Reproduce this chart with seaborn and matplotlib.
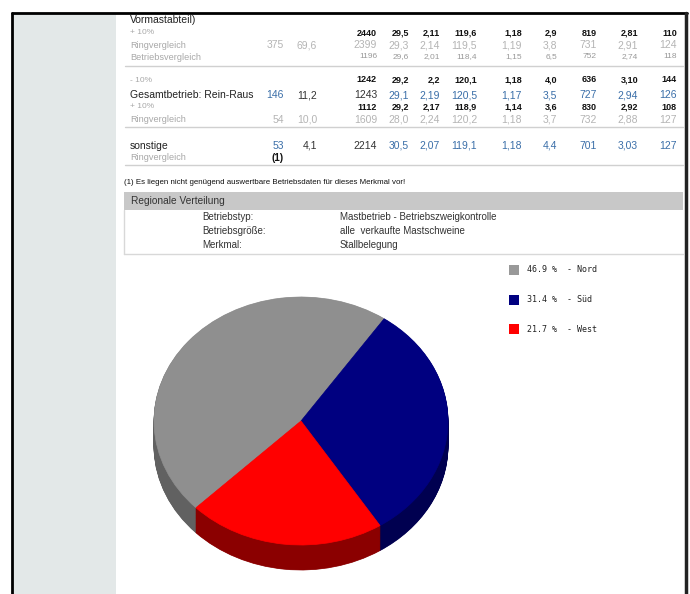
import numpy as np
import matplotlib.pyplot as plt
from matplotlib.patches import Rectangle
import seaborn as sns

sns.set_theme(style="white")
plt.rcParams['font.family'] = ['Liberation Sans', 'DejaVu Sans']

# ---- Daten: Tabelle ----
vorm_plus = ['2440', '29,5', '2,11', '119,6', '1,18', '2,9', '819', '2,81', '110']
vorm_ring = ['375', '69,6', '2399', '29,3', '2,14', '119,5', '1,19', '3,8', '731', '2,91', '124']
vorm_betrieb = ['1196', '29,6', '2,01', '118,4', '1,15', '6,5', '752', '2,74', '118']
rr_minus = ['1242', '29,2', '2,2', '120,1', '1,18', '4,0', '636', '3,10', '144']
rr_main = ['146', '11,2', '1243', '29,1', '2,19', '120,5', '1,17', '3,5', '727', '2,94', '126']
rr_plus = ['1112', '29,2', '2,17', '118,9', '1,14', '3,6', '830', '2,92', '108']
rr_ring = ['54', '10,0', '1609', '28,0', '2,24', '120,2', '1,18', '3,7', '732', '2,88', '127']
sonst_main = ['53', '4,1', '2214', '30,5', '2,07', '119,1', '1,18', '4,4', '701', '3,03', '127']

info_keys = ['Betriebstyp:', 'Betriebsgröße:', 'Merkmal:']
info_vals = ['Mastbetrieb - Betriebszweigkontrolle', 'alle  verkaufte Mastschweine', 'Stallbelegung']

# ---- Daten: Kreisdiagramm ----
regions = ['Nord', 'Süd', 'West']
shares = [46.9, 31.4, 21.7]
top_colors = ['#8f8f8f', '#000080', '#ff0000']
side_colors = ['#616161', '#000050', '#8b0000']
legend_colors = ['#999999', '#000080', '#ff0000']

# Spalten (rechte Kante in Pixel)
col_x = [284, 317, 377, 409, 440, 477, 522, 557, 597, 638, 677]

W, H = 690, 594
fig = plt.figure(figsize=(W / 100, H / 100), dpi=100)
bg = fig.add_axes([0, 0, 1, 1])
bg.set_xlim(0, W)
bg.set_ylim(H, 0)
bg.axis('off')

# Rahmen + Seitenleiste
bg.add_patch(Rectangle((13, 14), 103, H - 14, color='#e3e8e8', lw=0))
bg.plot([12, 12], [13, H], color='black', lw=2)
bg.plot([12, 687], [13, 13], color='black', lw=2)
bg.plot([686, 686], [13, H], color='#222222', lw=2.5)

BLUE = '#3a6ea8'
DARK = '#333333'
LIGHT = '#b4b4b4'
LBL = '#a8a8a8'


def label(y, txt, size=6.6, color=LBL):
    bg.text(130, y, txt, fontsize=size, color=color, va='center', ha='left')


def values(y, vals, start, size, color, weight='normal', colors=None):
    for i, v in enumerate(vals):
        c = colors[i] if colors else color
        bg.text(col_x[start + i], y, v, fontsize=size, color=c, weight=weight,
                va='center', ha='right')


# Block Vormastabteil
label(20, 'Vormastabteil)', 7.5, '#222222')
label(33, '+ 10%', 6)
values(33, vorm_plus, 2, 6.5, '#111111', 'bold')
label(45, 'Ringvergleich')
values(45, vorm_ring, 0, 7.5, LIGHT)
label(57, 'Betriebsvergleich')
values(57, vorm_betrieb, 2, 6, '#999999')
bg.plot([125, 683], [66, 66], color='#d0d0d0', lw=1)

# Block Rein-Raus
label(80, '- 10%', 6)
values(80, rr_minus, 2, 6.5, '#111111', 'bold')
label(95, 'Gesamtbetrieb: Rein-Raus', 7.5, '#222222')
values(95, rr_main, 0, 7.5, BLUE, colors=[BLUE, DARK, DARK] + [BLUE] * 8)
label(107, '+ 10%', 6)
values(107, rr_plus, 2, 6.5, '#111111', 'bold')
label(120, 'Ringvergleich')
values(120, rr_ring, 0, 7.5, LIGHT)
bg.plot([125, 683], [127, 127], color='#d0d0d0', lw=1)

# Block sonstige
label(146, 'sonstige', 7.5, '#222222')
values(146, sonst_main, 0, 7.5, BLUE, colors=[BLUE, DARK, DARK] + [BLUE] * 8)
label(158, 'Ringvergleich')
bg.text(col_x[0], 158, '(1)', fontsize=7, weight='bold', color='#111111',
        va='center', ha='right')
bg.plot([125, 683], [165, 165], color='#d0d0d0', lw=1)

bg.text(124, 183, '(1) Es liegen nicht genügend auswertbare Betriebsdaten für dieses Merkmal vor!',
        fontsize=5.7, color='#111111', va='center', ha='left')

# Regionale Verteilung Box
bg.add_patch(Rectangle((124, 192), 559, 18, color='#c8c8c8', lw=0))
bg.text(131, 201, 'Regionale Verteilung', fontsize=7.3, color='#333333', va='center')
bg.plot([124, 124], [210, 254], color='#d8d8d8', lw=1)
bg.plot([124, 683], [254, 254], color='#d8d8d8', lw=1)
for i, (k, v) in enumerate(zip(info_keys, info_vals)):
    y = 217 + 14 * i
    bg.text(202, y, k, fontsize=7, color='#333333', va='center')
    bg.text(340, y, v, fontsize=7, color='#333333', va='center')

# Legende
for i, (name, s, c) in enumerate(zip(regions, shares, legend_colors)):
    y = 270 + 29.5 * i
    bg.add_patch(Rectangle((509, y - 5), 10, 10, color=c, lw=0))
    bg.text(527, y, f'{s:.1f} %  - {name}', fontsize=6, family='DejaVu Sans Mono',
            color='#222222', va='center')

# 3D-Kreisdiagramm
cx, cy, a, b, depth_px = 301, 421, 147, 124, 25
xl, xr, yt, yb = -1.2, 1.2, 1.2, -1.4
ax = fig.add_axes([(cx + xl * a) / W, (H - (cy - yb * b)) / H,
                   (xr - xl) * a / W, (yt - yb) * b / H])
pal_top = sns.color_palette(top_colors)
pal_side = sns.color_palette(side_colors)
depth = depth_px / b
start = 224.4
for off in np.linspace(depth, 0.0, 40)[:-1]:
    wedges, _ = ax.pie(shares, colors=pal_side, startangle=start, counterclock=False,
                       center=(0, -off), wedgeprops=dict(linewidth=0.5))
    for w in wedges:
        w.set_edgecolor(w.get_facecolor())
wedges, _ = ax.pie(shares, colors=pal_top, startangle=start, counterclock=False,
                   center=(0, 0), wedgeprops=dict(linewidth=0.5))
for w in wedges:
    w.set_edgecolor(w.get_facecolor())
ax.set_aspect('auto')
ax.set_xlim(xl, xr)
ax.set_ylim(yb, yt)
ax.axis('off')

fig.savefig('out.png', dpi=100)
